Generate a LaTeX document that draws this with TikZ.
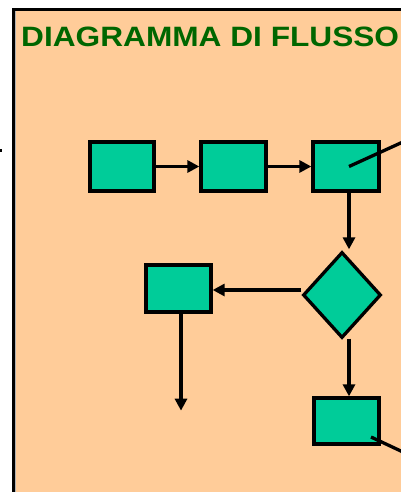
\documentclass[tikz,border=0pt]{standalone}
\usepackage{fontspec}
\setmainfont{Liberation Sans}
\usetikzlibrary{shapes.geometric,arrows.meta}
\definecolor{peach}{HTML}{FFCC99}
\definecolor{boxgreen}{HTML}{00CC99}
\definecolor{titlegreen}{HTML}{006600}
\begin{document}
\begin{tikzpicture}[x=1pt,y=-1pt,
  box/.style={draw=black,fill=boxgreen,line width=3.3pt,rectangle,inner sep=0pt},
  dia/.style={draw=black,fill=boxgreen,line width=3.3pt,diamond,inner sep=0pt,minimum width=78pt,minimum height=86pt},
  arr/.style={line width=3.3pt,-{Triangle[length=12pt,width=12pt]}},
  ln/.style={line width=3.3pt},
  ttl/.style={font=\bfseries\fontsize{28}{32}\selectfont,text=titlegreen,inner sep=0pt}
]
\useasboundingbox (0,0) rectangle (401,492);
\clip (0,0) rectangle (401,492);
\fill[white] (0,0) rectangle (401,492);
% panel
\draw[line width=3.3pt,fill=peach] (13.5,9.5) rectangle (430,520);
\draw[gray!60,line width=0.8pt] (15.8,11.5) -- (15.8,520);
% tiny mark
\fill[black] (0,149) rectangle (1.5,152);
% title
\node[ttl,anchor=base west,xscale=1.13] (t) at (21,47) {DIAGRAMMA DI FLUSSO};
% boxes
\node[box,minimum width=64pt,minimum height=49pt] (b1) at (122,166.5) {};
\node[box,minimum width=65pt,minimum height=49pt] (b2) at (233.5,166.5) {};
\node[box,minimum width=66pt,minimum height=49pt] (b3) at (346,166.5) {};
\node[dia] (d) at (342,295) {};
\node[box,minimum width=65pt,minimum height=47pt] (b4) at (178.5,288.5) {};
\node[box,minimum width=65pt,minimum height=46pt] (b5) at (346.5,421) {};
% off-panel ends
\coordinate (e1) at (420,134.2);
\coordinate (e2) at (420,460);
% connectors
\draw[arr] (b1.east) -- (b2.west);
\draw[arr] (b2.east) -- (b3.west);
\draw[ln] ([xshift=3pt]b3.center) -- (e1);
\draw[arr] ([xshift=3pt]b3.south) -- ([xshift=7pt,yshift=1pt]d.north);
\draw[arr] ([yshift=5pt]d.west) -- ([yshift=-1.5pt]b4.east);
\draw[arr] ([xshift=2.5pt]b4.south) -- ++(0,97);
\draw[arr] ([xshift=7pt,yshift=1pt]d.south) -- ([xshift=2.5pt]b5.north);
\draw[ln] ([xshift=24.5pt,yshift=-16pt]b5.center) -- (e2);
\end{tikzpicture}
\end{document}
